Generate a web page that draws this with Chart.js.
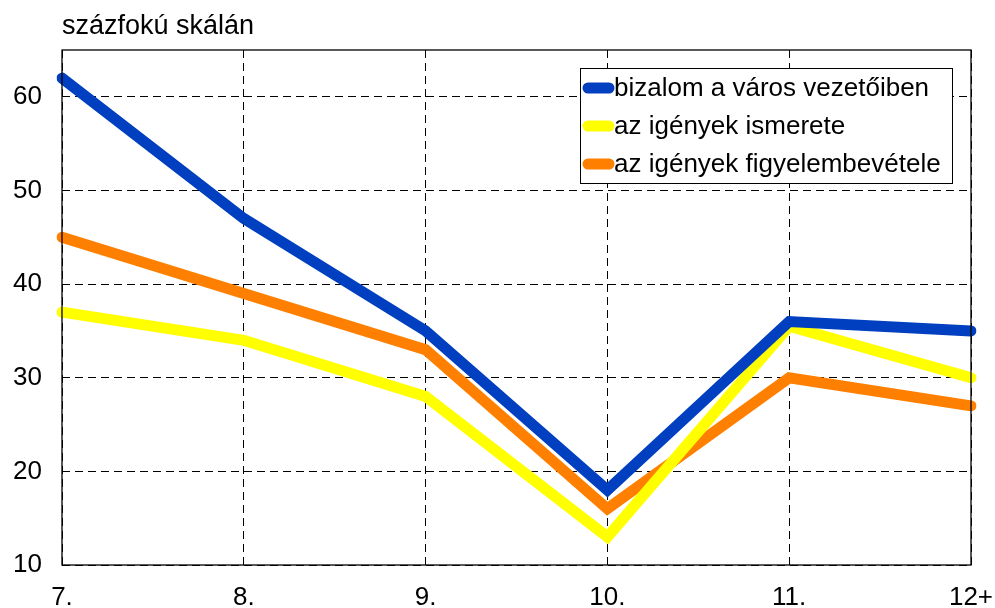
<!DOCTYPE html>
<html>
<head>
<meta charset="utf-8">
<script src="https://cdn.jsdelivr.net/npm/chart.js@4/dist/chart.umd.min.js"></script>
<style>
  html, body { margin: 0; padding: 0; background: #fff; }
  #wrap { width: 995px; height: 608px; }
</style>
</head>
<body>
<div id="wrap"><canvas id="myChart" width="995" height="608"></canvas></div>
<script>
const categories = ["7.", "8.", "9.", "10.", "11.", "12+"];
const bizalom = [62, 47, 35, 18, 36, 35];
const ismerete = [37, 34, 28, 13, 35.5, 30];
const figyelembe = [45, 39, 33, 16, 30, 27];
const yTicks = [10, 20, 30, 40, 50, 60];
const seriesNames = ["bizalom a város vezetőiben", "az igények ismerete", "az igények figyelembevétele"];
const lineColors = ["#0040c0", "#ffff00", "#ff8000"];

const FONT = "'Liberation Sans', Arial, sans-serif";

// title, frame and legend drawn by hand
const extras = {
  id: "extras",
  afterDraw(chart) {
    const ctx = chart.ctx;
    const a = chart.chartArea;
    ctx.save();
    ctx.strokeStyle = "#000";
    ctx.lineWidth = 1.3;
    ctx.strokeRect(a.left, a.top, a.right - a.left, a.bottom - a.top);

    ctx.fillStyle = "#000";
    ctx.font = "27px " + FONT;
    ctx.textBaseline = "middle";
    ctx.textAlign = "left";
    ctx.fillText("százfokú skálán", 62, 27);

    // legend box
    const bx = 580, by = 68, bw = 372, bh = 115;
    ctx.fillStyle = "#fff";
    ctx.fillRect(bx, by, bw, bh);
    ctx.strokeStyle = "#000";
    ctx.lineWidth = 1;
    ctx.strokeRect(bx + 0.5, by + 0.5, bw, bh);
    chart.data.datasets.forEach((ds, i) => {
      const y = by + 20 + i * 38;
      ctx.strokeStyle = ds.borderColor;
      ctx.lineWidth = 11;
      ctx.lineCap = "round";
      ctx.beginPath();
      ctx.moveTo(bx + 8, y);
      ctx.lineTo(bx + 29, y);
      ctx.stroke();
      ctx.fillStyle = "#000";
      ctx.font = "26px " + FONT;
      ctx.fillText(ds.label, bx + 34, y + 1);
    });
    ctx.restore();
  }
};

const config = {
  type: "line",
  data: {
    labels: categories,
    datasets: [
      { label: seriesNames[0], data: bizalom, borderColor: lineColors[0] },
      { label: seriesNames[1], data: ismerete, borderColor: lineColors[1] },
      { label: seriesNames[2], data: figyelembe, borderColor: lineColors[2] }
    ]
  },
  options: {
    responsive: false,
    animation: false,
    layout: { padding: { top: 50, right: 24, left: 0, bottom: 0 } },
    elements: {
      line: { borderWidth: 11, borderCapStyle: "round", borderJoinStyle: "miter", tension: 0 },
      point: { radius: 0 }
    },
    plugins: {
      legend: { display: false },
      title: { display: false },
      tooltip: { enabled: false }
    },
    scales: {
      x: {
        offset: false,
        grid: { color: "#000", lineWidth: 1, drawTicks: false },
        border: { display: false, dash: [8, 5] },
        ticks: { color: "#000", font: { size: 26, family: FONT }, padding: 17, maxRotation: 0 },
        afterFit(scale) {
          scale.height = 43;
          scale.paddingLeft = 0;
          scale.paddingRight = 0;
        }
      },
      y: {
        min: 10,
        max: 65,
        afterBuildTicks(scale) { scale.ticks = yTicks.map(v => ({ value: v })); },
        grid: { color: "#000", lineWidth: 1, drawTicks: false },
        border: { display: false, dash: [8, 5] },
        ticks: { color: "#000", font: { size: 26, family: FONT }, padding: 20 },
        afterFit(scale) {
          scale.width = 62;
          scale.paddingTop = 0;
          scale.paddingBottom = 0;
        }
      }
    }
  },
  plugins: [extras]
};

new Chart("myChart", config);
</script>
</body>
</html>
